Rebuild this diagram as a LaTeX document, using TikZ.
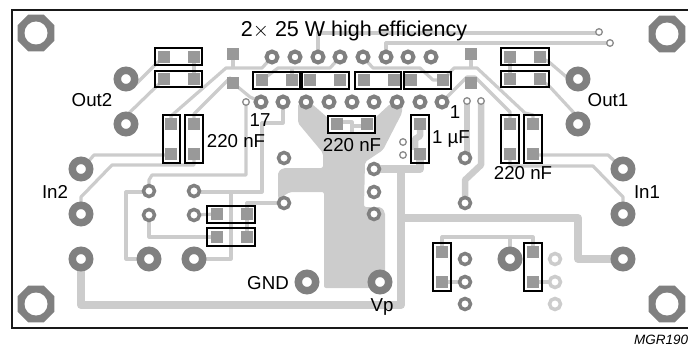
\documentclass[tikz,border=0pt]{standalone}
\usepackage{fontspec}
\setmainfont{Liberation Sans}
\usetikzlibrary{shapes.geometric}
\definecolor{copper}{HTML}{CCCCCC}
\definecolor{padgray}{HTML}{808080}
\definecolor{solder}{HTML}{999999}
\tikzset{
    thintrace/.style={draw=copper, line width=3.2pt, line join=round},
    widetrace/.style={draw=copper, line width=8pt, line join=round},
    midtrace/.style={draw=copper, line width=6.5pt, line join=round},
    partbox/.style={draw=black, line width=1.5pt},
    solderpad/.style={fill=solder},
    textlabel/.style={font=\fontsize{18.7}{19}\selectfont, inner sep=0pt},
}
\begin{document}
\begin{tikzpicture}[x=1pt,y=-1pt]
    \useasboundingbox (0,0) rectangle (688,350);
    \draw[line width=1.6pt, color=black!90!white] (690,10)--(12,10)--(12,328)--(690,328);

    % ground area under the amplifier
    \fill[copper, rounded corners=2pt] (298,104)--(312,104)--(328,118)--(328,133)--(375,133)--(375,118)--(390,104)--(402,104)--(402,113)--(383,150)--(365,162)--(364,207)--(381,207)--(385,212)--(385,282)--(370,288)--(324,288)--(324,192)--(290,192)--(280,198)--(278,198)--(278,172)--(283,168)--(323,168)--(323,153)--(298,123)--cycle;

    % wide traces
    \draw[widetrace] (81,259)--(81,305)--(401,305)--(401,172);
    \draw[widetrace] (401,218)--(578,218)--(578,259)--(623,259);
    \draw[widetrace] (374,169)--(420,169)--(420,154);
    \draw[midtrace] (467,101)--(467,158);
    \draw[midtrace] (481,101)--(481,165)--(465,180)--(465,203);
    \draw[midtrace] (420,124)--(420,136)--(415,139)--(415,150);

    % thin traces
    \draw[thintrace] (318,57)--(318,33)--(599,33);
    \draw[thintrace] (386,57)--(386,43)--(610,43);
    \draw[thintrace] (135,85)--(157,63)--(164,57);
    \draw[thintrace] (126,116)--(160,83)--(164,79);
    \draw[thintrace] (194,57)--(194,79);
    \draw[thintrace] (233,54)--(233,68);
    \draw[thintrace] (171,124)--(171,116)--(226,68)--(262,68)--(272,57);
    \draw[thintrace] (194,124)--(194,114)--(230,78)--(233,83)--(250,97)--(261,102);
    \draw[thintrace] (171,155)--(94,155)--(81,170);
    \draw[thintrace] (194,154)--(194,165)--(112,165)--(81,197)--(81,214);
    \draw[thintrace] (262,80)--(278,68)--(330,68)--(340,57);
    \draw[thintrace] (292,80)--(292,68);
    \draw[thintrace] (363,57)--(373,68)--(420,68)--(433,80)--(443,80);
    \draw[thintrace] (443,80)--(454,68)--(477,68)--(525,113)--(533,115)--(533,124);
    \draw[thintrace] (471,54)--(471,68);
    \draw[thintrace] (442,102)--(467,77)--(475,77)--(510,112)--(510,124);
    \draw[thintrace] (510,57)--(510,79);
    \draw[thintrace] (540,57)--(549,62)--(570,80);
    \draw[thintrace] (540,79)--(550,87)--(575,114);
    \draw[thintrace] (533,155)--(608,155)--(623,169);
    \draw[thintrace] (510,154)--(510,166)--(593,166)--(623,197)--(623,214);
    \draw[thintrace] (246,102)--(246,175)--(152,175)--(149,180)--(149,191);
    \draw[thintrace] (283,102)--(283,123)--(262,123)--(262,192)--(194,192);
    \draw[thintrace] (231,192)--(231,259)--(194,259);
    \draw[thintrace] (149,192)--(126,192)--(126,259)--(149,259);
    \draw[thintrace] (149,215)--(149,237)--(217,237);
    \draw[thintrace] (194,215)--(217,214);
    \draw[thintrace] (284,203)--(247,203)--(247,237);
    \draw[thintrace] (442,252)--(442,237)--(533,237)--(533,252);
    \draw[thintrace] (510,237)--(510,259);
    \draw[thintrace] (442,282)--(465,282);
    \draw[thintrace] (533,282)--(555,282);
    \draw[thintrace] (337,122)--(352,122)--(352,132);
    \draw[thintrace] (352,126)--(367,126);

    % mounting holes
    \foreach \x/\y in {36/33, 667/34, 36/304, 667/304}{
        \node[regular polygon, regular polygon sides=8, fill=padgray, minimum size=40pt, inner sep=0pt] at (\x,\y) {};
        \fill[white] (\x,\y) circle (11.5);
    }

    % big pads
    \foreach \x/\y in {126/79, 126/124, 81/169, 81/214, 81/259, 149/259, 194/259, 578/79, 578/124, 623/169, 623/214, 623/259, 307/282, 380/282, 510/259}{
        \draw[padgray, line width=7.5pt, fill=white] (\x,\y) circle (8.7);
    }
    % pins and small pads
    \foreach \x in {272,295,318,340,363,386,408,431}{
        \draw[padgray, line width=4pt, fill=white] (\x,57) circle (5.5);
    }
    \foreach \x in {261,283,306,329,352,374,397,420,442}{
        \draw[padgray, line width=4pt, fill=white] (\x,102) circle (5.5);
    }
    \foreach \x/\y in {149/191, 194/191, 149/215, 194/215, 284/158, 284/203, 374/169, 374/192, 374/214, 465/158, 465/203, 465/259, 465/282, 465/304}{
        \draw[padgray, line width=3.5pt, fill=white] (\x,\y) circle (5.5);
    }
    \foreach \x/\y in {555/259, 555/282, 555/304}{
        \draw[copper, line width=3.5pt, fill=white] (\x,\y) circle (5.5);
    }
    \foreach \x/\y in {246/102, 403/142, 403/155, 467/101, 481/101, 599/32, 610/43}{
        \draw[black!45!white, line width=1.3pt, fill=white] (\x,\y) circle (3.3);
    }

    % parts, with their solder squares
    \foreach \xa/\ya/\xb/\yb in {155/48/202/65, 155/71/202/87, 253/72/300/89, 302/72/349/89, 355/72/401/89, 404/72/451/89, 328/116/375/133, 501/48/549/65, 501/71/549/87, 207/206/255/223, 207/228/255/246, 163/115/180/163, 185/115/203/163, 411/115/429/163, 501/115/519/163, 524/115/542/163, 433/243/451/291, 524/243/542/291}{
        \draw[partbox] (\xa,\ya) rectangle (\xb,\yb);
    }
    \foreach \x/\y in {164/57, 194/57, 164/79, 194/79, 171/124, 171/154, 194/124, 194/154, 262/80, 292/80, 310/80, 340/80, 364/80, 394/80, 411/80, 443/80, 337/124, 367/124, 420/124, 420/154, 233/54, 233/83, 471/54, 471/83, 510/57, 540/57, 510/79, 540/79, 510/124, 510/154, 533/124, 533/154, 217/214, 247/214, 217/237, 247/237, 442/252, 442/282, 533/252, 533/282}{
        \fill[solderpad] (\x-6,\y-6) rectangle (\x+6,\y+6);
    }

    % labels
    \node[textlabel, font=\fontsize{21.5}{22}\selectfont] (title) at (354,31) {2$\times$ 25 W high efficiency};
    \node[textlabel] (out2) at (92,100) {Out2};
    \node[textlabel] (out1) at (608,100) {Out1};
    \node[textlabel] (in2) at (55,192) {In2};
    \node[textlabel] (in1) at (647,192) {In1};
    \node[textlabel] (captwo) at (236,141) {220 nF};
    \node[textlabel] (capmid) at (352,145) {220 nF};
    \node[textlabel] (capone) at (523,173) {220 nF};
    \node[textlabel] (capdec) at (451,139) {1 µF};
    \node[textlabel] (pinlast) at (260,120) {17};
    \node[textlabel] (pinfirst) at (455,112) {1};
    \node[textlabel] (gnd) at (268,283) {GND};
    \node[textlabel] (vp) at (382,307) {Vp};
    \node[anchor=west, inner sep=0pt, font=\fontsize{13.5}{14}\selectfont\itshape] (code) at (634,340) {MGR190};
\end{tikzpicture}
\end{document}
